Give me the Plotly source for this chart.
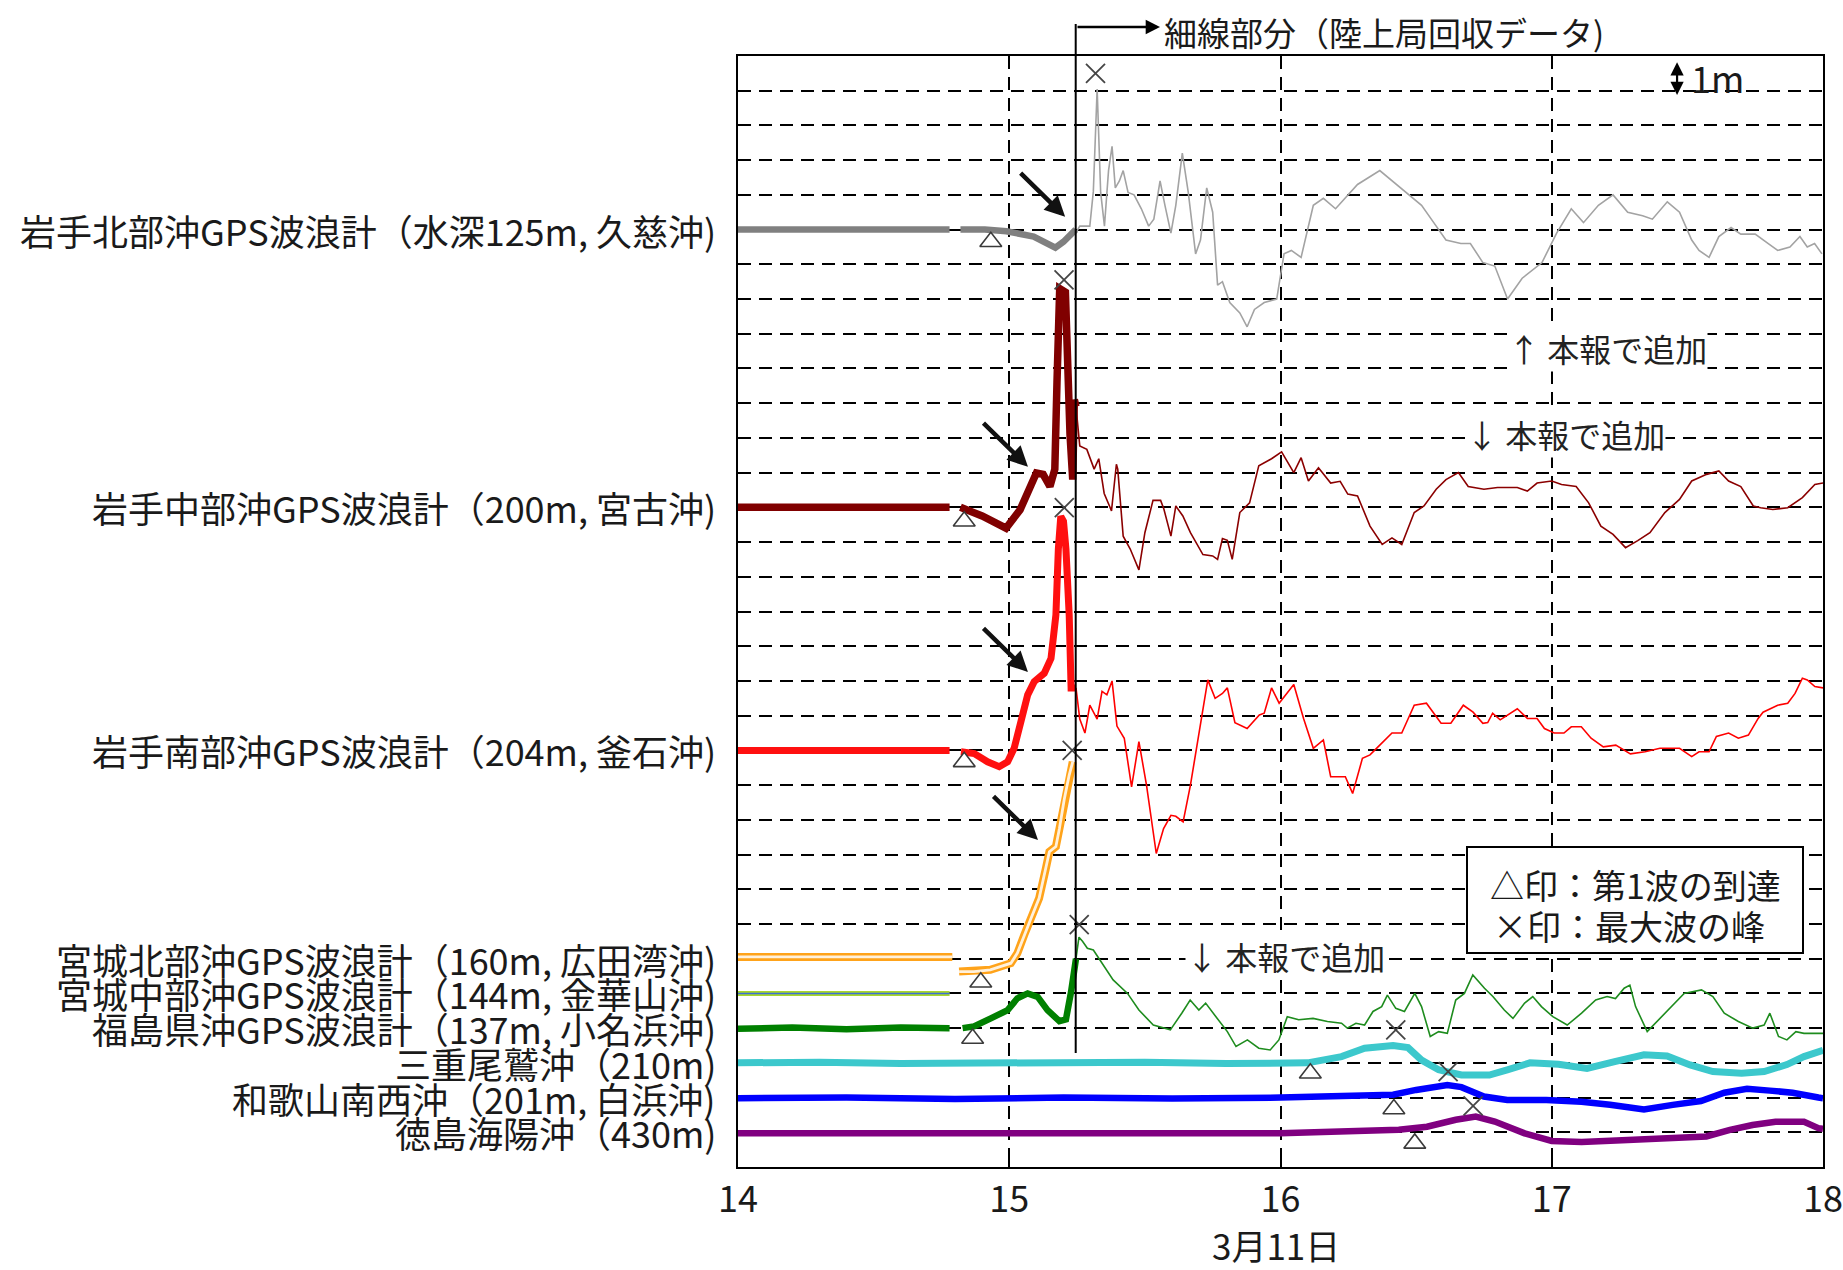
import plotly.graph_objects as go

# ---------------- axis / labels ----------------
x_ticks = [14, 15, 16, 17, 18]
x_tick_text = ["14", "15", "16", "17", "18"]
x_title = "3月11日"
y_range = [0, 32]
land_switch_time = 15.245          # start of thin (land-station) data
land_line_bottom = 3.28            # bottom end of the vertical marker line

station_labels = [
    "岩手北部沖GPS波浪計（水深125m, 久慈沖)",
    "岩手中部沖GPS波浪計（200m, 宮古沖)",
    "岩手南部沖GPS波浪計（204m, 釜石沖)",
    "宮城北部沖GPS波浪計（160m, 広田湾沖)",
    "宮城中部沖GPS波浪計（144m, 金華山沖)",
    "福島県沖GPS波浪計（137m, 小名浜沖)",
    "三重尾鷲沖（210m)",
    "和歌山南西沖（201m, 白浜沖)",
    "徳島海陽沖（430m)",
]
station_baselines = [27, 19, 12, 6, 5, 4, 3, 2, 1]

# ---------------- series (time [h], offset level [m]) ----------------
grey_buoy = [(14.0, 27.0), (14.78, 27.0), None, (14.82, 27.0), (14.91, 27.0), (14.99, 26.95),
             (15.09, 26.8), (15.17, 26.48), (15.20, 26.65), (15.245, 27.0)]
grey_land = [(15.245, 26.9), (15.26, 27.1), (15.297, 27.1), (15.31, 28.1), (15.324, 31.05),
             (15.337, 28.07), (15.351, 27.1), (15.366, 28.7), (15.379, 29.4), (15.391, 28.2),
             (15.406, 28.4), (15.42, 28.7), (15.438, 28.07), (15.46, 28.0), (15.487, 27.6),
             (15.514, 27.1), (15.533, 27.3), (15.556, 28.4), (15.574, 27.7), (15.596, 26.9),
             (15.614, 27.7), (15.638, 29.2), (15.66, 28.07), (15.687, 26.3), (15.705, 26.7),
             (15.728, 28.2), (15.75, 27.5), (15.768, 25.4), (15.786, 25.5), (15.813, 24.9),
             (15.85, 24.6), (15.877, 24.2), (15.904, 24.7), (15.94, 24.9), (15.986, 25.0),
             (16.013, 26.3), (16.04, 26.4), (16.076, 26.2), (16.121, 27.7), (16.158, 27.9),
             (16.203, 27.6), (16.239, 27.9), (16.284, 28.3), (16.366, 28.7), (16.457, 28.1),
             (16.52, 27.7), (16.565, 27.2), (16.61, 26.7), (16.665, 26.6), (16.70, 26.6),
             (16.746, 26.05), (16.79, 25.95), (16.837, 25.0), (16.891, 25.6), (16.964, 26.05),
             (17.018, 26.9), (17.072, 27.6), (17.117, 27.2), (17.172, 27.7), (17.226, 28.0),
             (17.28, 27.5), (17.335, 27.4), (17.371, 27.3), (17.426, 27.8), (17.471, 27.5),
             (17.516, 26.7), (17.543, 26.4), (17.58, 26.2), (17.616, 26.8), (17.661, 27.06),
             (17.697, 26.87), (17.75, 26.87), (17.797, 26.6), (17.833, 26.4), (17.878, 26.5),
             (17.915, 26.8), (17.942, 26.5), (17.969, 26.6), (17.996, 26.3)]

darkred_buoy = [(14.0, 19.0), (14.78, 19.0), None, (14.82, 19.0), (14.9, 18.75), (14.988, 18.4),
                (15.04, 18.93), (15.10, 19.99), (15.125, 19.95), (15.15, 19.6), (15.168, 20.1),
                (15.176, 22.6), (15.186, 25.3), (15.207, 25.2), (15.216, 22.5), (15.224, 21.1),
                (15.234, 19.8), (15.24, 22.1), (15.246, 21.9)]
darkred_land = [(15.246, 21.9), (15.26, 20.77), (15.286, 20.67), (15.313, 20.1), (15.33, 20.4),
                (15.35, 19.4), (15.377, 18.9), (15.395, 20.24), (15.40, 20.1), (15.42, 18.17),
                (15.446, 17.8), (15.478, 17.2), (15.50, 18.27), (15.53, 19.2), (15.558, 19.2),
                (15.57, 18.95), (15.596, 18.17), (15.614, 19.04), (15.64, 18.75), (15.668, 18.27),
                (15.714, 17.64), (15.75, 17.6), (15.768, 17.5), (15.786, 18.1), (15.804, 18.05),
                (15.822, 17.5), (15.85, 18.85), (15.886, 19.13), (15.92, 20.2), (15.967, 20.4),
                (16.004, 20.6), (16.049, 20.0), (16.076, 20.43), (16.103, 19.76), (16.14, 20.14),
                (16.185, 19.7), (16.22, 19.75), (16.248, 19.38), (16.284, 19.33), (16.33, 18.46),
                (16.375, 17.93), (16.411, 18.12), (16.447, 17.93), (16.493, 18.85), (16.529, 19.04),
                (16.574, 19.52), (16.61, 19.8), (16.656, 20.0), (16.692, 19.6), (16.73, 19.55),
                (16.75, 19.52), (16.8, 19.57), (16.873, 19.57), (16.91, 19.47), (16.946, 19.7),
                (17.0, 19.76), (17.036, 19.66), (17.09, 19.6), (17.136, 19.13), (17.181, 18.46),
                (17.226, 18.22), (17.272, 17.84), (17.317, 18.04), (17.362, 18.27), (17.417, 18.85),
                (17.471, 19.23), (17.516, 19.76), (17.571, 19.95), (17.616, 20.05), (17.652, 19.76),
                (17.697, 19.6), (17.743, 19.04), (17.77, 18.99), (17.815, 18.94), (17.87, 18.99),
                (17.924, 19.28), (17.97, 19.66), (18.0, 19.7)]

red_buoy = [(14.0, 12.0), (14.78, 12.0), None, (14.822, 11.96), (14.871, 11.91), (14.92, 11.67),
            (14.963, 11.53), (14.994, 11.67), (15.018, 12.06), (15.043, 12.83), (15.068, 13.6),
            (15.092, 13.98), (15.129, 14.22), (15.154, 14.65), (15.172, 15.9), (15.181, 17.8),
            (15.19, 18.74), (15.2, 18.6), (15.209, 17.8), (15.221, 15.9), (15.228, 13.8),
            (15.246, 13.8)]
red_land = [(15.246, 13.8), (15.26, 12.9), (15.279, 12.5), (15.297, 13.3), (15.324, 12.9),
            (15.342, 13.7), (15.36, 13.6), (15.379, 14.0), (15.397, 12.7), (15.424, 12.35),
            (15.451, 10.95), (15.478, 12.25), (15.506, 11.0), (15.542, 9.03), (15.569, 9.75),
            (15.596, 10.13), (15.614, 10.1), (15.641, 9.94), (15.668, 11.0), (15.705, 12.73),
            (15.732, 14.03), (15.759, 13.5), (15.786, 13.64), (15.804, 13.8), (15.832, 12.8),
            (15.877, 12.63), (15.922, 13.02), (15.94, 13.07), (15.967, 13.8), (15.995, 13.36),
            (16.02, 13.6), (16.049, 13.9), (16.085, 12.92), (16.121, 12.06), (16.158, 12.3),
            (16.185, 11.24), (16.239, 11.24), (16.266, 10.76), (16.302, 11.77), (16.33, 11.87),
            (16.366, 12.15), (16.411, 12.5), (16.447, 12.5), (16.493, 13.3), (16.538, 13.36),
            (16.592, 12.78), (16.628, 12.78), (16.674, 13.3), (16.71, 13.1), (16.746, 12.78),
            (16.764, 12.8), (16.782, 13.07), (16.81, 12.88), (16.873, 13.2), (16.91, 12.92),
            (16.946, 12.92), (16.973, 12.63), (17.009, 12.5), (17.045, 12.5), (17.072, 12.68),
            (17.109, 12.68), (17.145, 12.35), (17.19, 12.1), (17.236, 12.15), (17.29, 11.9),
            (17.344, 11.96), (17.399, 12.06), (17.471, 12.06), (17.516, 11.82), (17.543, 11.96),
            (17.58, 11.96), (17.607, 12.4), (17.652, 12.5), (17.688, 12.35), (17.725, 12.44),
            (17.761, 12.92), (17.779, 13.1), (17.833, 13.3), (17.87, 13.36), (17.897, 13.64),
            (17.924, 14.08), (17.942, 14.03), (17.97, 13.84), (18.0, 13.8)]

orange_buoy = [(14.0, 6.05), (14.79, 6.05), None, (14.815, 5.63), (14.87, 5.63), (14.93, 5.68),
               (15.006, 5.87), (15.03, 6.16), (15.055, 6.68), (15.08, 7.16), (15.11, 7.74),
               (15.135, 8.6), (15.148, 9.08), (15.172, 9.23), (15.185, 9.75), (15.203, 10.6),
               (15.221, 11.29), (15.234, 11.67)]

yellowgreen_buoy = [(14.0, 5.0), (14.78, 5.0)]

green_buoy = [(14.0, 3.98), (14.2, 4.02), (14.4, 3.97), (14.6, 4.02), (14.78, 4.0), None,
              (14.828, 4.0), (14.87, 4.05), (14.932, 4.28), (14.994, 4.52), (15.03, 4.86),
              (15.068, 5.0), (15.105, 4.9), (15.141, 4.52), (15.185, 4.2), (15.209, 4.25),
              (15.228, 5.05), (15.246, 6.0)]
green_land = [(15.246, 6.0), (15.257, 6.62), (15.27, 6.5), (15.288, 6.3), (15.31, 6.25),
              (15.341, 5.87), (15.383, 5.39), (15.436, 5.0), (15.478, 4.52), (15.531, 4.09),
              (15.594, 3.95), (15.636, 4.43), (15.667, 4.81), (15.699, 4.52), (15.724, 4.72),
              (15.762, 4.33), (15.804, 3.9), (15.836, 3.47), (15.878, 3.66), (15.92, 3.42),
              (15.962, 3.37), (15.994, 3.66), (16.025, 4.33), (16.067, 4.24), (16.12, 4.28),
              (16.173, 4.19), (16.225, 4.14), (16.246, 4.0), (16.278, 4.14), (16.31, 4.09),
              (16.341, 4.48), (16.373, 4.62), (16.394, 4.95), (16.425, 4.57), (16.457, 4.48),
              (16.495, 5.0), (16.52, 4.62), (16.552, 3.76), (16.583, 3.9), (16.615, 3.85),
              (16.646, 4.81), (16.678, 5.0), (16.709, 5.53), (16.752, 5.15), (16.783, 4.91),
              (16.825, 4.52), (16.857, 4.28), (16.9, 4.72), (16.93, 4.91), (16.962, 4.62),
              (17.004, 4.33), (17.057, 4.09), (17.11, 4.43), (17.162, 4.81), (17.204, 4.91),
              (17.235, 4.85), (17.267, 5.15), (17.288, 5.24), (17.309, 4.62), (17.352, 3.9),
              (17.394, 4.24), (17.436, 4.57), (17.488, 5.0), (17.552, 5.1), (17.594, 4.91),
              (17.636, 4.43), (17.688, 4.19), (17.741, 4.0), (17.783, 4.09), (17.804, 4.43),
              (17.836, 3.76), (17.867, 3.66), (17.9, 3.9), (17.93, 3.85), (18.0, 3.85)]

cyan_series = [(14.0, 3.0), (14.3, 3.02), (14.6, 2.98), (14.9, 3.0), (15.2, 2.98), (15.5, 3.02),
               (15.8, 2.98), (16.1, 3.0), (16.225, 3.18), (16.31, 3.42), (16.415, 3.5),
               (16.47, 3.44), (16.52, 3.08), (16.583, 2.8), (16.667, 2.65), (16.77, 2.65),
               (16.836, 2.8), (16.92, 3.0), (17.025, 2.96), (17.13, 2.84), (17.236, 3.04),
               (17.34, 3.23), (17.425, 3.2), (17.51, 2.94), (17.594, 2.75), (17.7, 2.7),
               (17.783, 2.75), (17.867, 2.95), (17.93, 3.18), (17.983, 3.32), (18.0, 3.36)]

blue_series = [(14.0, 1.98), (14.4, 2.0), (14.8, 1.96), (15.2, 2.0), (15.6, 1.97), (16.0, 2.0),
               (16.415, 2.08), (16.5, 2.22), (16.615, 2.36), (16.667, 2.3), (16.75, 2.03),
               (16.836, 1.93), (16.98, 1.93), (17.11, 1.88), (17.215, 1.79), (17.34, 1.66),
               (17.446, 1.79), (17.55, 1.9), (17.636, 2.14), (17.72, 2.25), (17.804, 2.2),
               (17.888, 2.14), (17.983, 2.0), (18.0, 1.98)]

purple_series = [(14.0, 0.97), (14.5, 0.97), (15.0, 0.97), (15.5, 0.97), (16.0, 0.97),
                 (16.436, 1.07), (16.54, 1.16), (16.646, 1.36), (16.72, 1.45), (16.79, 1.31),
                 (16.9, 0.97), (17.0, 0.75), (17.11, 0.72), (17.28, 0.78), (17.446, 0.83),
                 (17.57, 0.88), (17.657, 1.07), (17.74, 1.21), (17.825, 1.3), (17.93, 1.3),
                 (17.983, 1.12), (18.0, 1.1)]

# first-wave arrival (triangle) and max-wave crest (x)
first_wave_t = [14.932, 14.834, 14.834, 14.895, 14.865, 16.11, 16.418, 16.495]
first_wave_v = [26.65, 18.6, 11.67, 5.32, 3.7, 2.7, 1.67, 0.68]
max_wave_t = [15.318, 15.202, 15.203, 15.232, 15.258, 16.425, 16.618, 16.71]
max_wave_v = [31.5, 25.55, 18.99, 12.0, 6.98, 3.95, 2.75, 1.76]

# ---------------- figure ----------------
fig = go.Figure()


def add_series(pairs, color, width):
    xs = [p[0] if p is not None else None for p in pairs]
    ys = [p[1] if p is not None else None for p in pairs]
    fig.add_trace(go.Scatter(x=xs, y=ys, mode="lines", connectgaps=False,
                             line=dict(color=color, width=width),
                             hoverinfo="skip", showlegend=False))


THICK = 6.5
THIN = 1.6
add_series(grey_land, "#a3a3a3", THIN)
add_series(grey_buoy, "#808080", THICK)
add_series(darkred_land, "#8b0000", THIN)
add_series(darkred_buoy, "#800000", 7.5)
add_series(red_land, "#ff0000", THIN)
add_series(red_buoy, "#ff1010", 7)
add_series(orange_buoy, "#ffa31a", 8)
add_series(orange_buoy, "#fff1dc", 2.8)
add_series(yellowgreen_buoy, "#a8d62c", 5)
add_series(yellowgreen_buoy, "#3b6fd6", 1.5)
add_series(green_land, "#1e8c1e", THIN)
add_series(green_buoy, "#008000", THICK)
add_series(cyan_series, "#3cc8cc", 7)
add_series(blue_series, "#0000ff", 6.5)
add_series(purple_series, "#800080", 6.5)

fig.add_trace(go.Scatter(x=first_wave_t, y=first_wave_v, mode="markers", cliponaxis=False,
                         marker=dict(symbol="triangle-up", size=19, color="white",
                                     line=dict(color="#3a3a3a", width=1.6)),
                         hoverinfo="skip", showlegend=False))
fig.add_trace(go.Scatter(x=max_wave_t, y=max_wave_v, mode="markers", cliponaxis=False,
                         marker=dict(symbol="x-thin-open", size=19, color="#454545",
                                     line=dict(color="#454545", width=1.8)),
                         hoverinfo="skip", showlegend=False))

grid_dash = "13px,8px"
fig.update_xaxes(range=[14, 18], tickmode="array", tickvals=x_ticks, ticktext=x_tick_text,
                 showgrid=True, gridcolor="black", gridwidth=2, griddash=grid_dash,
                 zeroline=False, showline=True, linecolor="black", linewidth=2, mirror=True,
                 ticks="inside", ticklen=8, tickwidth=2, tickcolor="black",
                 tickfont=dict(size=36, family="Noto Sans CJK JP", color="#1a1a1a"),
                 ticklabelstandoff=0, ticklabeloverflow="allow", automargin=False)
fig.update_yaxes(range=y_range, tick0=0, dtick=1, showticklabels=False,
                 showgrid=True, gridcolor="black", gridwidth=2, griddash=grid_dash,
                 zeroline=False, showline=True, linecolor="black", linewidth=2, mirror=True,
                 ticks="", automargin=False)

# window geometry (page body margin removed in post_script)
WIN_W, WIN_H = 1843, 1270
PLOT_TOP, PLOT_BOTTOM, PLOT_LEFT, PLOT_RIGHT = 56, 1167, 738, 1823
PH = PLOT_BOTTOM - PLOT_TOP
PW = PLOT_RIGHT - PLOT_LEFT


def py(pix):
    return (PLOT_BOTTOM - pix) / PH


def px(pix):
    return (pix - PLOT_LEFT) / PW


TXT = "#1a1a1a"
FONT = "Noto Sans CJK JP"
ann = []
for lab, base in zip(station_labels, station_baselines):
    ann.append(dict(text=lab, xref="paper", x=0, xanchor="right", xshift=-20,
                    yref="y", y=base, yanchor="middle", showarrow=False,
                    font=dict(size=36, family=FONT, color=TXT)))

ann.append(dict(text=x_title, xref="paper", x=px(1276), yref="paper", y=py(1244),
                xanchor="center", yanchor="middle", showarrow=False,
                font=dict(size=35, family=FONT, color=TXT)))

# top: arrow + text for land-station data
ann.append(dict(text="", xref="x", x=14 + (1160 - PLOT_LEFT) / PW * 4, yref="paper", y=py(27),
                showarrow=True, axref="pixel", ayref="pixel", ax=-84, ay=0,
                arrowhead=2, arrowsize=1.1, arrowwidth=2.6, arrowcolor="black"))
ann.append(dict(text="細線部分（陸上局回収データ)", xref="paper", x=px(1162), xanchor="left",
                yref="paper", y=py(32), yanchor="middle", showarrow=False,
                font=dict(size=33, family=FONT, color=TXT)))

# 1m scale arrow
ann.append(dict(text="", xref="x", x=17.462, yref="y", y=30.88, showarrow=True,
                axref="x", ayref="y", ax=17.462, ay=31.86, arrowside="end+start",
                arrowhead=2, startarrowhead=2, arrowsize=1.2, startarrowsize=1.2,
                arrowwidth=2.2, arrowcolor="black"))
ann.append(dict(text="1m", xref="x", x=17.505, xanchor="left", yref="y", y=31.4,
                yanchor="middle", showarrow=False, font=dict(size=36, family=FONT, color=TXT)))

# "added in this report" notes
notes = [("↑ 本報で追加", 17.206, 23.6), ("↓ 本報で追加", 17.05, 21.12), ("↓ 本報で追加", 16.02, 6.08)]
for txt, xt, yt in notes:
    ann.append(dict(text=txt, xref="x", x=xt, yref="y", y=yt, xanchor="center",
                    yanchor="middle", showarrow=False, bgcolor="white", borderpad=0,
                    font=dict(size=32, family=FONT, color="#222")))

# black arrows pointing at the first wave
arrow_heads = [(15.206, 27.37), (15.069, 20.17), (15.069, 14.26), (15.106, 9.42)]
for xh, yh in arrow_heads:
    ann.append(dict(text="", xref="x", x=xh, yref="y", y=yh, showarrow=True,
                    axref="pixel", ayref="pixel", ax=-46, ay=-45,
                    arrowhead=2, arrowsize=0.9, arrowwidth=4.5, arrowcolor="#111"))

# legend text
ann.append(dict(text="△印：第1波の到達", xref="paper", x=px(1488), xanchor="left",
                yref="paper", y=py(884), yanchor="middle", showarrow=False,
                font=dict(size=34, family=FONT, color=TXT)))
ann.append(dict(text="×印：最大波の峰", xref="paper", x=px(1491), xanchor="left",
                yref="paper", y=py(926), yanchor="middle", showarrow=False,
                font=dict(size=34, family=FONT, color=TXT)))

shapes = [
    dict(type="line", xref="x", x0=land_switch_time, x1=land_switch_time,
         yref="paper", y0=land_line_bottom / y_range[1], y1=py(24),
         line=dict(color="black", width=2), layer="above"),
    dict(type="rect", xref="paper", yref="paper", x0=px(1467), x1=px(1803),
         y0=py(953), y1=py(847), line=dict(color="black", width=2),
         fillcolor="white", layer="above"),
]

fig.update_layout(width=WIN_W, height=WIN_H, autosize=False,
                  margin=dict(l=PLOT_LEFT, r=WIN_W - PLOT_RIGHT,
                              t=PLOT_TOP, b=WIN_H - PLOT_BOTTOM, pad=0,
                              autoexpand=False),
                  plot_bgcolor="white", paper_bgcolor="white", showlegend=False,
                  font=dict(family=FONT, color=TXT),
                  annotations=ann, shapes=shapes)

fig.write_html("out.html", config={"displayModeBar": False},
               post_script="document.body.style.margin='0';document.body.style.overflow='hidden';")
